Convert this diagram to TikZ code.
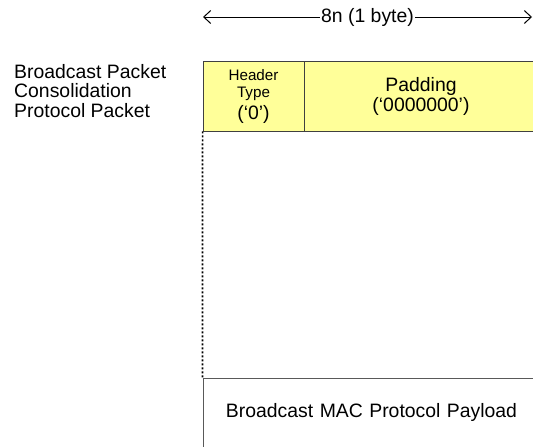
\documentclass[tikz,border=0pt]{standalone}
\usepackage{fontspec}
\setmainfont{Liberation Sans}
\usetikzlibrary{arrows.meta}
\definecolor{fieldyellow}{HTML}{FFFF99}

\begin{document}
\begin{tikzpicture}[x=1pt,y=-1pt]
    \tikzset{field/.style = {shape=rectangle,draw=black!75,fill=fieldyellow,line width=0.9pt,minimum height=70pt,inner sep=0pt,align=center}}
    \tikzset{caption/.style = {shape=rectangle,draw=none,inner sep=0pt,font=\fontsize{19.4}{19.5}\selectfont}}
    \tikzset{span/.style = {<->,> = {Straight Barb[length=7pt,width=13pt]},line width=1pt}}

    \useasboundingbox (0,0) rectangle (533,447);
    \clip (0,0) rectangle (533,447);

    % width of the packet
    \coordinate (wl) at (203,17);
    \coordinate (wr) at (532,17);
    \draw[span] (wl) -- (wr)
        node[midway,fill=white,inner sep=1.5pt,font=\fontsize{19.4}{19.5}\selectfont] (size) {8n (1 byte)};

    % packet name
    \node[caption,anchor=north west,align=left] (name) at (14,64)
        {Broadcast Packet\\Consolidation\\Protocol Packet};

    % fields
    \node[field,minimum width=101pt,font=\fontsize{15.2}{18}\selectfont] (hdr) at (253.5,96)
        {Header\\Type\\[3pt]\fontsize{19.4}{18}\selectfont (‘0’)};
    \node[field,minimum width=234pt,font=\fontsize{19.4}{20}\selectfont] (pad) at (421,96)
        {Padding\\(‘0000000’)};

    % payload
    \node[caption,draw=black!65,line width=0.9pt,anchor=north west,align=left,
          inner xsep=23pt,inner ysep=25pt,text height=14pt,text depth=40pt,text width=320pt]
        (payload) at (202.5,378) {Broadcast MAC Protocol Payload};

    \draw[line width=1.6pt,dash pattern=on 2pt off 2pt] (hdr.south west) -- (payload.north west);
\end{tikzpicture}
\end{document}
